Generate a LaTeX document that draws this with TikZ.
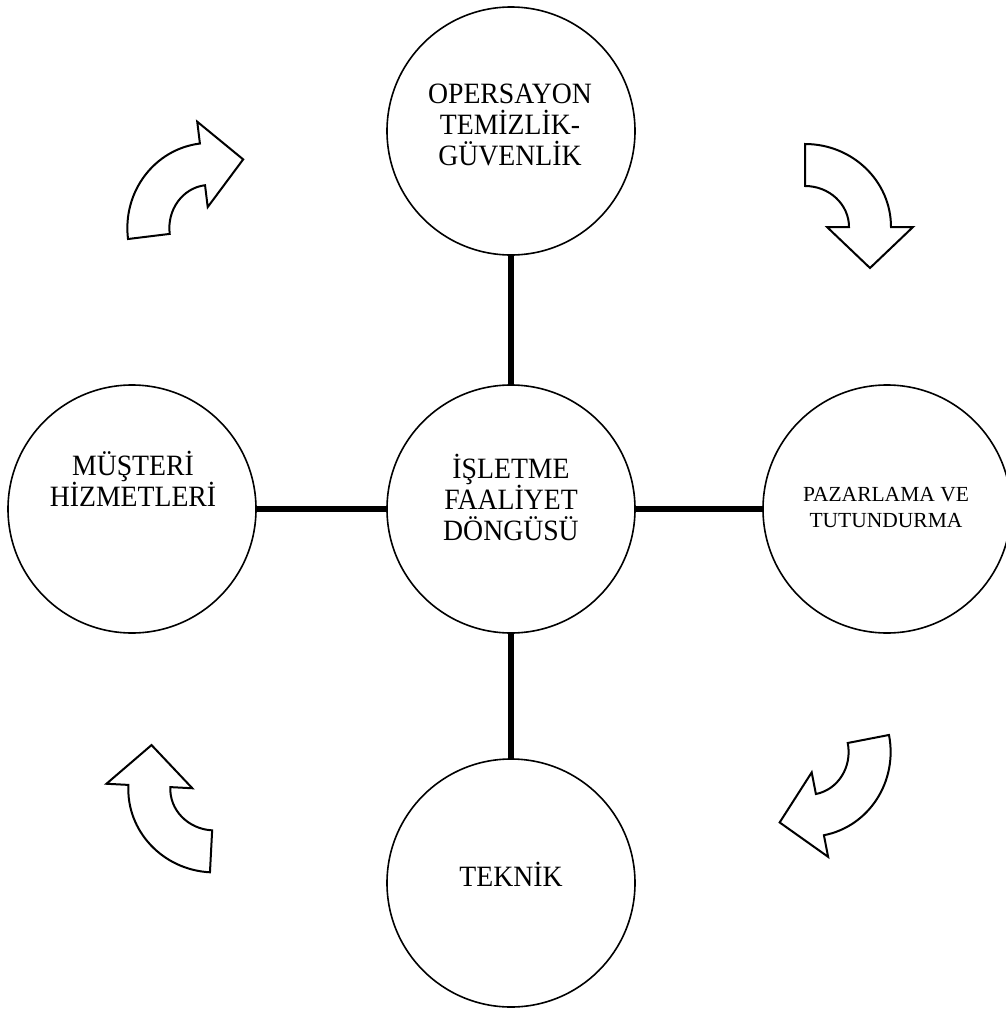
\documentclass[tikz,border=0pt]{standalone}
\usepackage{fontspec}
\setmainfont{Liberation Serif}
\newfontfamily\narrowserif{Liberation Serif}[FakeStretch=0.94]

\tikzset{
  pics/turnarrow/.style={code={
    \draw[line width=2pt, fill=white, line join=miter]
      (0,-83) arc[start angle=-90, end angle=0, x radius=86, y radius=83]
      -- (108,0) -- (65,41) -- (22,0) -- (44,0)
      arc[start angle=0, end angle=-90, x radius=44, y radius=41] -- cycle;
  }}
}

\begin{document}
\begin{tikzpicture}[x=1pt, y=-1pt,
    ring/.style={circle, draw, line width=1.6pt, minimum size=248pt, inner sep=0pt},
    link/.style={line width=5.5pt},
    txt/.style={align=center, font=\narrowserif\fontsize{29.5}{31}\selectfont},
    smalltxt/.style={align=center, font=\fontsize{21.5}{26}\selectfont}]
    \useasboundingbox (0,0) rectangle (1006,1009);

    % 円を描く
    \node[ring] (A) at (511, 509) {};
    \node[ring] (B) at (511, 131) {};
    \node[ring] (C) at (887, 509) {};
    \node[ring] (D) at (511, 883) {};
    \node[ring] (E) at (132, 509) {};

    % 線を引く
    \draw[link] (B) -- (A);
    \draw[link] (A) -- (C);
    \draw[link] (A) -- (D);
    \draw[link] (E) -- (A);

    % 文字を入れる
    \node[txt] (tA) at (511, 497) {İŞLETME\\FAALİYET\\DÖNGÜSÜ};
    \node[txt] (tB) at (510, 125) {OPERSAYON\\TEMİZLİK-\\GÜVENLİK};
    \node[smalltxt] (tC) at (886, 508) {PAZARLAMA VE\\TUTUNDURMA};
    \node[txt] (tD) at (511, 874) {TEKNİK};
    \node[txt] (tE) at (133, 479) {MÜŞTERİ\\HİZMETLERİ};

    % 矢印
    \pic[rotate=0] (p1) at (805, 227) {turnarrow};
    \pic[rotate=-79] (p2) at (807.5, 750.8) {turnarrow};
    \pic[rotate=177] (p3) at (214.3, 789.4) {turnarrow};
    \pic[rotate=97] (p4) at (210.4, 228.9) {turnarrow};

  \end{tikzpicture}
\end{document}
